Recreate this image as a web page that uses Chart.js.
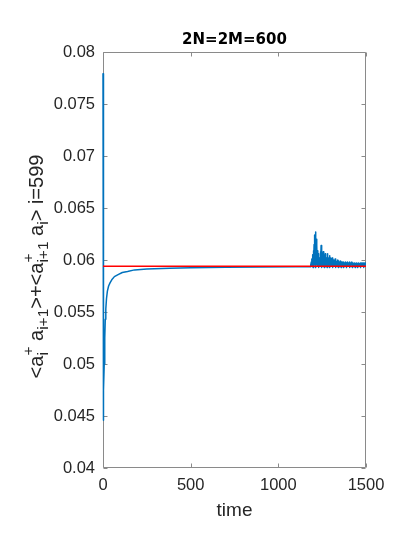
<!DOCTYPE html>
<html>
<head>
<meta charset="utf-8">
<script src="https://cdn.jsdelivr.net/npm/chart.js@4/dist/chart.umd.min.js"></script>
<style>
html,body{margin:0;padding:0;background:#fff;}
canvas{display:block;}
</style>
</head>
<body>
<canvas id="c" width="415" height="537"></canvas>
<script>
// ---- data ----
const titleText = '2N=2M=600';
const xAxisLabel = 'time';
const xTickValues = [0, 500, 1000, 1500];
const yTickValues = [0.04, 0.045, 0.05, 0.055, 0.06, 0.065, 0.07, 0.075, 0.08];
const yTickLabels = ['0.04', '0.045', '0.05', '0.055', '0.06', '0.065', '0.07', '0.075', '0.08'];

// relaxation part of the blue series
const timeEarly = [0, 1.5, 4, 7, 10, 13, 16, 20, 25, 32, 40, 50, 65, 86, 110, 140, 180, 250, 380, 500, 700, 900, 1100, 1180];
const valueEarly = [0.0779, 0.0446, 0.0475, 0.0500, 0.0525, 0.0543, 0.0553, 0.0563, 0.0570, 0.0575, 0.0578, 0.0581, 0.0584, 0.0586, 0.0588, 0.0589, 0.05905, 0.05913, 0.0592, 0.05925, 0.0593, 0.05933, 0.05935, 0.05935];

// oscillating part of the blue series: upper turning points
const timeHigh = [1184,1188,1192,1196,1200,1204,1208,1212,1216,1220,1224,1228,1232,1236,1240,1244,1248,1252,1256,1260,
  1264,1268,1272,1276,1280,1284,1288,1292,1296,1300,1304,1308,1312,1316,1320,1324,1328,1332,1336,1340,
  1344,1348,1352,1356,1360,1364,1368,1372,1376,1380,1384,1388,1392,1396,1400,1404,1408,1412,1416,1420,
  1424,1428,1432,1436,1440,1444,1448,1452,1456,1460,1464,1468,1472,1476,1480,1484,1488,1492,1496,1500];
const valueHigh = [0.0596,0.0598,0.0601,0.0605,0.0609,0.0615,0.0624,0.0627,0.0620,0.0614,0.0609,0.0606,0.0601,0.0602,0.0608,0.0614,0.0608,0.0601,0.0608,0.0603,
  0.0601,0.0606,0.0602,0.0600,0.0606,0.0602,0.0600,0.0604,0.0602,0.0599,0.0600,0.0602,0.0600,0.0598,0.0599,0.0601,0.0599,0.0598,0.0599,0.0600,
  0.0599,0.0597,0.0598,0.0599,0.0598,0.0597,0.0598,0.0598,0.0597,0.0597,0.0598,0.0597,0.0597,0.0598,0.0597,0.0597,0.0598,0.0597,0.0596,0.0598,
  0.0597,0.0596,0.0597,0.0597,0.0596,0.0597,0.0597,0.0596,0.0597,0.0597,0.0596,0.0597,0.0597,0.0596,0.0597,0.0597,0.0596,0.0597,0.0597,0.0596];
// oscillating part: lower turning points
const timeLow = [1182,1186,1190,1194,1198,1202,1206,1210,1214,1218,1222,1226,1230,1234,1238,1242,1246,1250,1254,1258,
  1262,1266,1270,1274,1278,1282,1286,1290,1294,1298,1302,1306,1310,1314,1318,1322,1326,1330,1334,1338,
  1342,1346,1350,1354,1358,1362,1366,1370,1374,1378,1382,1386,1390,1394,1398,1402,1406,1410,1414,1418,
  1422,1426,1430,1434,1438,1442,1446,1450,1454,1458,1462,1466,1470,1474,1478,1482,1486,1490,1494,1498];
const valueLow = [0.05935,0.0595,0.0594,0.0595,0.05928,0.0595,0.0596,0.0595,0.05928,0.0596,0.0595,0.0595,0.05928,0.0595,0.0595,0.0596,0.05928,0.0595,0.0595,0.0595,
  0.05928,0.0595,0.0595,0.0595,0.05928,0.0595,0.0595,0.0595,0.05928,0.0595,0.0595,0.0595,0.05928,0.0595,0.0595,0.0595,0.05928,0.0595,0.0595,0.0595,
  0.05928,0.0595,0.0595,0.0595,0.05928,0.0595,0.0595,0.0595,0.05928,0.0595,0.0595,0.0595,0.05928,0.0595,0.0595,0.0595,0.05928,0.0595,0.0595,0.0595,
  0.05928,0.0595,0.0595,0.0595,0.05928,0.0595,0.0595,0.0595,0.05928,0.0595,0.0595,0.0595,0.05928,0.0595,0.0595,0.0595,0.05928,0.0595,0.0595,0.0595];

// red reference line
const refTime = [0, 1500];
const refValue = [0.0594, 0.0594];

// y-axis label pieces (TeX-like: normal / sub / stacked sup+sub)
const yLabelParts = [
  {t: '<a'},
  {sup: '+', sub: 'i'},
  {t: ' a'},
  {sub: 'i+1'},
  {t: '>+<a'},
  {sup: '+', sub: 'i+1'},
  {t: ' a'},
  {sub: 'i'},
  {t: '> i=599'}
];

// ---- build ----
const latePts = timeHigh.map((t, i) => ({x: t, y: valueHigh[i]}))
  .concat(timeLow.map((t, i) => ({x: t, y: valueLow[i]})))
  .sort((a, b) => a.x - b.x);
const bluePts = timeEarly.map((t, i) => ({x: t, y: valueEarly[i]})).concat(latePts);
const redPts = refTime.map((t, i) => ({x: t, y: refValue[i]}));

const FONT = "'Liberation Sans', Arial, Helvetica, sans-serif";
const AXIS_COLOR = '#8a8a8a';
const TEXT_COLOR = '#262626';

const decor = {
  id: 'decor',
  beforeDatasetsDraw(chart) {
    const ctx = chart.ctx;
    const a = chart.chartArea;
    const xs = chart.scales.x, ys = chart.scales.y;
    ctx.save();
    ctx.strokeStyle = AXIS_COLOR;
    ctx.lineWidth = 1;
    const L = Math.round(a.left) + 0.5, R = Math.round(a.right) - 0.5;
    const T = Math.round(a.top) + 0.5, B = Math.round(a.bottom) - 0.5;
    ctx.beginPath();
    ctx.rect(L, T, R - L, B - T);
    ctx.stroke();
    const tl = 4;
    ctx.beginPath();
    ys.ticks.forEach(tk => {
      const y = Math.round(ys.getPixelForValue(tk.value)) + 0.5;
      ctx.moveTo(L, y); ctx.lineTo(L + tl, y);
      ctx.moveTo(R, y); ctx.lineTo(R - tl, y);
    });
    xs.ticks.forEach(tk => {
      const x = Math.round(xs.getPixelForValue(tk.value)) + 0.5;
      ctx.moveTo(x, B); ctx.lineTo(x, B - tl);
      ctx.moveTo(x, T); ctx.lineTo(x, T + tl);
    });
    ctx.stroke();
    ctx.restore();
  },
  afterDraw(chart) {
    const ctx = chart.ctx;
    const a = chart.chartArea;
    ctx.save();
    // title
    ctx.fillStyle = '#000';
    ctx.font = "bold 15px 'DejaVu Sans', sans-serif";
    ctx.textAlign = 'center';
    ctx.textBaseline = 'alphabetic';
    ctx.fillText(titleText, (a.left + a.right) / 2, 44);
    // y label
    const mainF = '20px ' + FONT, smallF = '15.5px ' + FONT;
    ctx.fillStyle = TEXT_COLOR;
    ctx.textAlign = 'left';
    const widths = yLabelParts.map(p => {
      if (p.t !== undefined) { ctx.font = mainF; return ctx.measureText(p.t).width; }
      ctx.font = smallF;
      return Math.max(p.sup ? ctx.measureText(p.sup).width : 0, p.sub ? ctx.measureText(p.sub).width : 0);
    });
    const total = widths.reduce((s, w) => s + w, 0);
    ctx.translate(43, 266.5);
    ctx.rotate(-Math.PI / 2);
    let x = -total / 2;
    yLabelParts.forEach((p, i) => {
      if (p.t !== undefined) {
        ctx.font = mainF; ctx.fillText(p.t, x, 0);
      } else {
        ctx.font = smallF;
        if (p.sup) ctx.fillText(p.sup, x, -10);
        if (p.sub) ctx.fillText(p.sub, x, 5);
      }
      x += widths[i];
    });
    ctx.restore();
  }
};

new Chart(document.getElementById('c'), {
  type: 'line',
  data: {
    datasets: [
      {data: redPts, borderColor: '#ff0000', borderWidth: 1.6, pointRadius: 0, order: 0, tension: 0},
      {data: bluePts, borderColor: '#0072bd', borderWidth: 1.5, pointRadius: 0, order: 1, tension: 0,
       borderJoinStyle: 'round', borderCapStyle: 'round', clip: {left: 3, top: 3, right: 0, bottom: 3}}
    ]
  },
  options: {
    responsive: false,
    animation: false,
    events: [],
    layout: {padding: {left: 0, right: 49, top: 52, bottom: 0}},
    plugins: {legend: {display: false}, tooltip: {enabled: false}, title: {display: false}},
    scales: {
      x: {
        type: 'linear', min: 0, max: 1500,
        grid: {display: false, drawTicks: false},
        border: {display: false},
        afterBuildTicks: s => { s.ticks = xTickValues.map(v => ({value: v})); },
        afterFit: s => { s.height = 69; },
        ticks: {color: TEXT_COLOR, font: {family: FONT, size: 16.5}, padding: 8, maxRotation: 0,
                callback: v => String(v)},
        title: {display: true, text: xAxisLabel, color: TEXT_COLOR, font: {family: FONT, size: 19},
                padding: {top: 0, bottom: 15}}
      },
      y: {
        type: 'linear', min: 0.04, max: 0.08,
        grid: {display: false, drawTicks: false},
        border: {display: false},
        afterBuildTicks: s => { s.ticks = yTickValues.map(v => ({value: v})); },
        afterFit: s => { s.width = 103; },
        ticks: {color: TEXT_COLOR, font: {family: FONT, size: 16.5}, padding: 8,
                callback: (v, i) => yTickLabels[i]}
      }
    }
  },
  plugins: [decor]
});
</script>
</body>
</html>
